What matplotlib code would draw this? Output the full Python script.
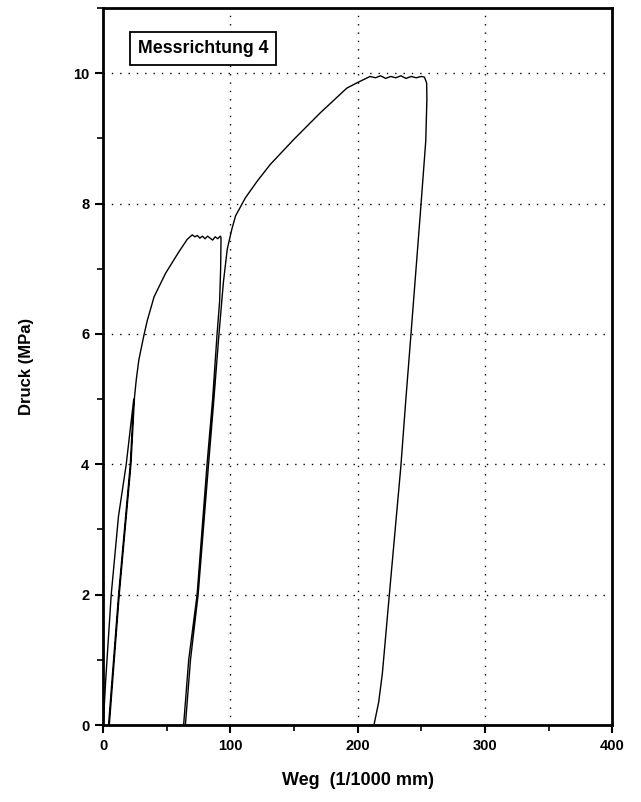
import numpy as np
import matplotlib
matplotlib.use("Agg")
import matplotlib.pyplot as plt
from matplotlib.ticker import MultipleLocator

plt.rcParams['font.family'] = ['Liberation Sans', 'DejaVu Sans']

# ── Data: one continuous load / unload / reload path ──────────────────────────
weg = [
    # first loading
    0, 2, 6.3, 12, 18.1, 24,
    # unloading at ~5 MPa
    21.3, 12.1, 4.2,
    # reloading up to the 7.5 MPa plateau
    4.8, 12.6, 21.8, 24.6, 26, 28, 32, 34.7, 40, 49, 59.5, 66, 70,
    72, 74, 76, 78, 80, 82, 84, 86, 88, 90, 92,
    # unloading from 7.5 MPa
    92.6, 92.3, 91.5, 89.5, 86.0, 81.6, 73.8, 67.2, 63.2,
    # reloading up to the 9.9 MPa plateau
    64.6, 68.6, 74.6, 82.8, 87.0, 91.0, 94.5, 97.5, 101, 104, 111.8, 120.9, 131.3,
    149.6, 170.5, 191.4, 199.2, 209.7,
    214, 218, 222, 226, 230, 234, 238, 242, 246, 250, 252.5,
    # final unloading
    254.2, 254.4, 253.5, 249.6, 241.7, 237.8, 233.9, 224.7, 219.4, 216.5, 212.8,
]
druck = [
    0, 0.7, 2.0, 3.2, 4.0, 5.0,
    4.0, 2.0, 0.0,
    0.0, 2.0, 4.0, 5.03, 5.3, 5.6, 5.98, 6.21, 6.57, 6.93, 7.26, 7.45, 7.52,
    7.49, 7.51, 7.47, 7.5, 7.46, 7.5, 7.47, 7.44, 7.49, 7.46, 7.5,
    7.48, 7.0, 6.5, 6.0, 5.0, 4.0, 2.0, 1.0, 0.0,
    0.0, 1.0, 2.0, 4.0, 5.0, 6.0, 6.8, 7.3, 7.6, 7.81, 8.09, 8.34, 8.6,
    8.98, 9.39, 9.77, 9.85, 9.95,
    9.93, 9.96, 9.92, 9.95, 9.93, 9.96, 9.92, 9.95, 9.93, 9.95, 9.94,
    9.85, 9.6, 8.96, 7.94, 5.95, 4.98, 3.96, 1.96, 0.79, 0.35, 0.0,
]

x_major = [0, 100, 200, 300, 400]
y_major = [0, 2, 4, 6, 8, 10]

# ── Plot ──────────────────────────────────────────────────────────────────────
fig = plt.figure(figsize=(6.41, 8.02), dpi=100)
ax = fig.add_axes([0.161, 0.096, 0.794, 0.894])

ax.plot(weg, druck, color='black', lw=1.0)

ax.set_xlim(0, 400)
ax.set_ylim(0, 11)
ax.set_xticks(x_major)
ax.set_yticks(y_major)
ax.xaxis.set_minor_locator(MultipleLocator(50))
ax.yaxis.set_minor_locator(MultipleLocator(1))
ax.tick_params(which='major', direction='out', length=6, width=1.5,
               labelsize=10.5, pad=4)
ax.tick_params(which='minor', direction='out', length=4, width=1.2)
for lab in ax.get_xticklabels() + ax.get_yticklabels():
    lab.set_fontweight('bold')

ax.grid(True, which='major', color='black', lw=1.0, ls=(0, (1, 5)))
for s in ax.spines.values():
    s.set_linewidth(2.0)

ax.set_xlabel('Weg  (1/1000 mm)', fontsize=13, fontweight='bold', labelpad=14)
ax.set_ylabel('Druck (MPa)', fontsize=12, fontweight='bold', labelpad=28)

ax.text(0.068, 0.943, 'Messrichtung 4', transform=ax.transAxes,
        fontsize=12.8, fontweight='bold', va='center', ha='left',
        bbox=dict(boxstyle='square,pad=0.45', fc='white', ec='black', lw=1.3))

fig.savefig('out.png', dpi=100)
